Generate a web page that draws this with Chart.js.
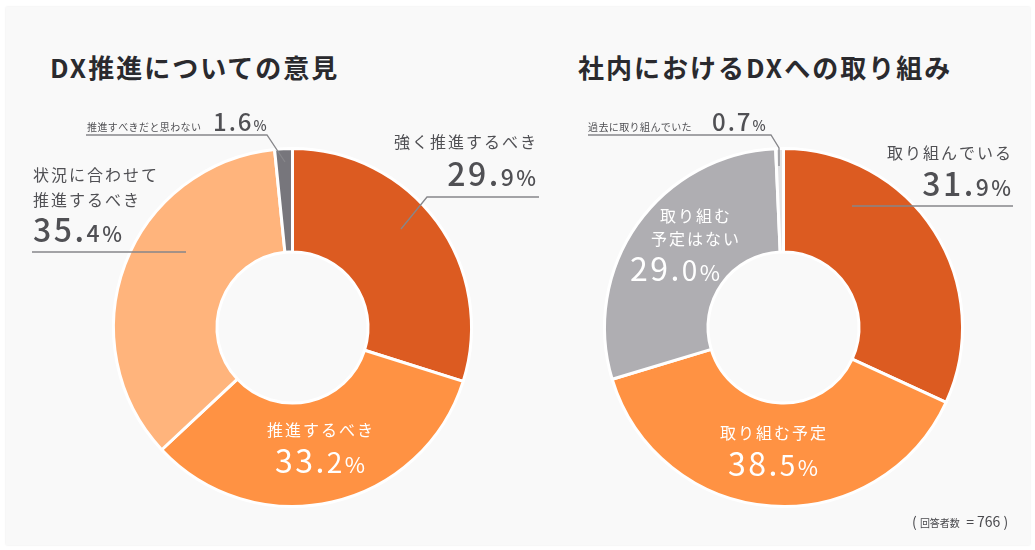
<!DOCTYPE html>
<html lang="ja">
<head>
<meta charset="utf-8">
<script src="https://cdn.jsdelivr.net/npm/chart.js@4.4.0/dist/chart.umd.min.js"></script>
<style>
  html, body { margin: 0; padding: 0; background: #fff; }
  #stage { position: relative; width: 1035px; height: 550px; overflow: hidden;
           font-family: 'Noto Sans CJK JP', 'Noto Sans', sans-serif; }
  .panel { position: absolute; left: 6px; top: 7px; width: 1024px; height: 538px;
           background: #f9f9f9; box-shadow: 0 0 2px rgba(0,0,0,0.10); }
  .title { position: absolute; top: 50px; font-size: 26px; font-weight: 700; color: #2a2a2e;
           letter-spacing: 2px; line-height: 34px; white-space: nowrap; }
  canvas { position: absolute; top: 0; left: 0; }
  .note { position: absolute; left: 912px; top: 511px; color: #4a4a4e; white-space: nowrap;
          font-size: 14px; line-height: 20px; }
  .note small { font-size: 10px; }
</style>
</head>
<body>
<div id="stage">
  <div class="panel"></div>
  <div class="title" id="title-opinion" style="left:50px"></div>
  <div class="title" id="title-effort" style="left:578px"></div>
  <canvas id="chart-opinion" width="1035" height="550"></canvas>
  <canvas id="chart-effort" width="1035" height="550"></canvas>
  <div class="note" id="note"></div>
</div>
<script>
// --- data ---
const OPINION_TITLE  = 'DX推進についての意見';
const OPINION_LABELS = ['強く推進するべき', '推進するべき', '状況に合わせて\n推進するべき', '推進すべきだと思わない'];
const OPINION_VALUES = [29.9, 33.2, 35.4, 1.6];

const EFFORT_TITLE  = '社内におけるDXへの取り組み';
const EFFORT_LABELS = ['取り組んでいる', '取り組む予定', '取り組む\n予定はない', '過去に取り組んでいた'];
const EFFORT_VALUES = [31.9, 38.5, 29.0, 0.7];

const RESPONDENTS = 766;

// --- styles ---
const FONT = "'Noto Sans CJK JP', 'Noto Sans', sans-serif";
const TEXT_GREY = '#505054';
const LINE_GREY = '#86868a';
const WHITE = '#ffffff';

const OPINION_COLORS = ['#dc5b21', '#ff9243', '#ffb47c', '#77767c'];
const EFFORT_COLORS  = ['#dc5b21', '#ff9243', '#afaeb2', '#e2e2e4'];

// label layout, page coordinates (one entry per slice, same order as data)
const OPINION_LAYOUT = [
  { align: 'right',  x: 536, names: [142],      num: 186, color: TEXT_GREY, line: [[539, 197], [427, 197], [401, 229]] },
  { align: 'center', x: 320, names: [430],      num: 473, color: WHITE },
  { align: 'left',   x: 33,  names: [175, 200], num: 242, color: TEXT_GREY, line: [[32, 252], [186, 252]] },
  { inline: true,    x: 87,  y: 127, numX: 213, num: 131, color: TEXT_GREY, line: [[86, 135], [267, 135], [285, 162]] },
];
const EFFORT_LAYOUT = [
  { align: 'right',  x: 1011, names: [153],      num: 196, color: TEXT_GREY, line: [[1013, 206], [852, 206]] },
  { align: 'center', x: 773,  names: [433],      num: 476, color: WHITE },
  { align: 'center', x: 695,  names: [216, 239], num: 281, numX: 675, color: WHITE },
  { inline: true,    x: 588,  y: 127, numX: 712, num: 131, color: TEXT_GREY, line: [[588, 135], [771, 135], [779, 148], [779, 166]] },
];

function numberParts(v, big, small, pct) {
  const [i, d] = v.toFixed(1).split('.');
  return [{ t: i + '.', size: big }, { t: d, size: small }, { t: '%', size: pct }];
}

function drawRun(ctx, parts, x, y, align, color, spacing, weight) {
  ctx.textAlign = 'left';
  ctx.textBaseline = 'alphabetic';
  ctx.letterSpacing = spacing + 'px';
  let w = 0;
  parts.forEach(p => {
    ctx.font = `${weight} ${p.size}px ${FONT}`;
    p.w = ctx.measureText(p.t).width;
    w += p.w;
  });
  w -= spacing;
  let cx = align === 'right' ? x - w : align === 'center' ? x - w / 2 : x;
  ctx.fillStyle = color;
  parts.forEach(p => {
    ctx.font = `${weight} ${p.size}px ${FONT}`;
    ctx.fillText(p.t, cx, y);
    cx += p.w;
  });
}

function calloutPlugin(labels, values, layout) {
  return {
    id: 'callouts',
    afterDraw(chart) {
      const ctx = chart.ctx;
      ctx.save();
      layout.forEach((L, i) => {
        if (L.line) {
          ctx.strokeStyle = LINE_GREY;
          ctx.lineWidth = 1.3;
          ctx.beginPath();
          L.line.forEach(([px, py], k) => k ? ctx.lineTo(px, py) : ctx.moveTo(px, py));
          ctx.stroke();
        }
        if (L.inline) {
          ctx.letterSpacing = '0.4px';
          ctx.font = `400 10px ${FONT}`;
          ctx.fillStyle = L.color;
          ctx.textAlign = 'left';
          ctx.textBaseline = 'middle';
          ctx.fillText(labels[i], L.x, L.y);
          drawRun(ctx, [{ t: values[i].toFixed(1), size: 24 }, { t: '%', size: 14 }], L.numX, L.num, 'left', L.color, 2, 500);
          return;
        }
        const lines = labels[i].split('\n');
        ctx.letterSpacing = '2px';
        ctx.font = `400 16px ${FONT}`;
        ctx.fillStyle = L.color;
        ctx.textBaseline = 'middle';
        lines.forEach((s, k) => {
          const w = ctx.measureText(s).width - 2;
          const lx = L.align === 'right' ? L.x - w : L.align === 'center' ? L.x - w / 2 : L.x;
          ctx.textAlign = 'left';
          ctx.fillText(s, lx, L.names[k]);
        });
        const white = L.color === WHITE;
        drawRun(ctx, numberParts(values[i], 32, white ? 28 : 23, white ? 22 : 21),
                L.numX ?? L.x, L.num, L.align, L.color, 2.5, white ? 400 : 500);
      });
      ctx.restore();
    },
  };
}

function makeDoughnut(id, labels, values, colors, layout, pad) {
  return new Chart(document.getElementById(id), {
    type: 'doughnut',
    data: {
      labels: labels.map(s => s.replace('\n', '')),
      datasets: [{
        data: values,
        backgroundColor: colors,
        borderColor: '#ffffff',
        borderWidth: 3,
        hoverBorderWidth: 3,
        offset: 0,
        hoverOffset: 0,
      }],
    },
    options: {
      responsive: false,
      animation: false,
      events: [],
      cutout: '42.2%',
      layout: { padding: pad },
      plugins: { legend: { display: false }, tooltip: { enabled: false } },
    },
    plugins: [calloutPlugin(labels, values, layout)],
  });
}

document.getElementById('title-opinion').textContent = OPINION_TITLE;
document.getElementById('title-effort').textContent = EFFORT_TITLE;
document.getElementById('note').innerHTML = `( <small>回答者数</small>&nbsp; = ${RESPONDENTS} )`;

makeDoughnut('chart-opinion', OPINION_LABELS, OPINION_VALUES, OPINION_COLORS, OPINION_LAYOUT,
             { left: 112, right: 562, top: 147, bottom: 42 });
makeDoughnut('chart-effort', EFFORT_LABELS, EFFORT_VALUES, EFFORT_COLORS, EFFORT_LAYOUT,
             { left: 603, right: 71, top: 147, bottom: 42 });
</script>
</body>
</html>
